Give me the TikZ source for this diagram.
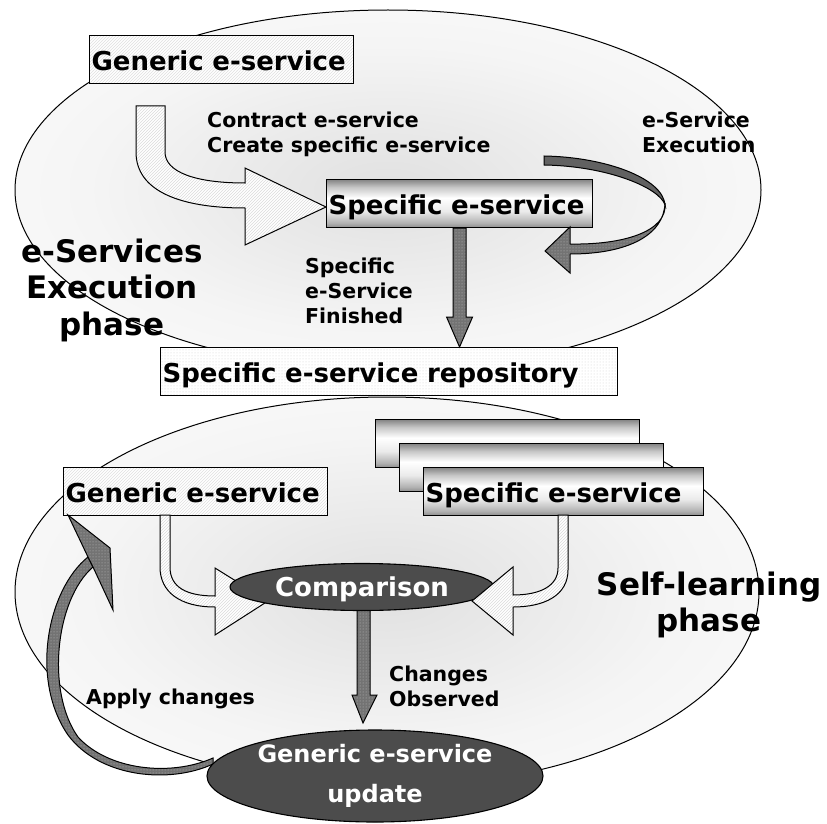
\documentclass[tikz,border=0pt]{standalone}
\usepackage{fontspec}
\setmainfont{DejaVu Sans}
\usetikzlibrary{shapes.geometric,patterns,calc}

% soft grey glow inside the two phase ellipses (path edge at 25bp)
\pgfdeclareradialshading{softglow}{\pgfpoint{0bp}{0bp}}{%
  color(0bp)=(black!12); color(10bp)=(black!8); color(20bp)=(black!4);
  color(25bp)=(black!3); color(50bp)=(black!3)}
% metallic look of the specific e-service boxes (path spans 25bp..75bp)
\pgfdeclareverticalshading{cylbox}{100bp}{%
  color(0bp)=(black!45); color(25bp)=(black!45); color(30bp)=(black!30);
  color(42bp)=(black!8); color(56bp)=(white); color(67bp)=(black!22);
  color(75bp)=(black!48); color(100bp)=(black!48)}

\newcommand\txtlines[2]{\begin{tabular}[t]{@{}#1@{}}#2\end{tabular}}

\begin{document}
\begin{tikzpicture}[x=1pt,y=-1pt,
  phaseshape/.style={draw=black, line width=1pt, shading=softglow},
  box/.style={draw=black, line width=1.1pt, anchor=north west, inner xsep=2pt,
    inner ysep=0pt, text height=35pt, text depth=13pt, align=left,
    font=\bfseries\fontsize{26}{31}\selectfont},
  hatchbox/.style={box, preaction={fill=white}, pattern=north east lines, pattern color=black!12},
  dotbox/.style={box, preaction={fill=white}, pattern=dots, pattern color=black!18},
  metalbox/.style={box, shade, shading=cylbox},
  hatcharrow/.style={draw=black, line width=1pt, preaction={fill=white},
    pattern=north east lines, pattern color=black!14},
  darkarrow/.style={draw=black, line width=1pt, preaction={fill=black!55},
    pattern=dots, pattern color=black!25},
  solidarrow/.style={draw=black, line width=1pt, fill=black!62},
  darkoval/.style={ellipse, draw=black, line width=1.1pt, fill=black!70, text=white,
    inner sep=0pt, font=\bfseries},
  lbl/.style={inner sep=0pt, font=\bfseries\fontsize{20.5}{25}\selectfont},
  biglbl/.style={inner sep=0pt, font=\bfseries\fontsize{31}{36.5}\selectfont}]

\useasboundingbox (0,0) rectangle (827,824);

% the two phases
\shade[phaseshape] (388,190) ellipse [x radius=373pt, y radius=180pt];
\shade[phaseshape] (387,592) ellipse [x radius=372pt, y radius=195pt];

% repository between the phases
\node[dotbox, text width=453pt] (repo) at (160,347) {Specific e-service repository};

% ---- execution phase ----
\node[hatchbox, text width=260pt] (gen1) at (89,35) {Generic e-service};

% contract / create arrow
\draw[hatcharrow] (136,106) -- (165,106) -- (165,152)
  .. controls (165,172) and (195,183) .. (245,183) -- (245,168) -- (326,207)
  -- (245,245) -- (245,208) .. controls (182,208) and (136,192) .. (136,152) -- cycle;

\node[metalbox, text width=262pt] (spec) at (326,179) {Specific e-service};

% execution loop
\draw[solidarrow] (544,156) .. controls (605,157) and (663,178) .. (665,205)
  .. controls (660,188) and (608,166) .. (544,165) -- cycle;
\draw[darkarrow] (665,203) .. controls (668,232) and (622,245) .. (570,244)
  -- (570,227) -- (545,251) -- (570,273) -- (570,254)
  .. controls (628,254) and (664,235) .. (665,203) -- cycle;

% finished -> repository
\coordinate (tipC) at (spec.south |- repo.north);
\draw[darkarrow] ($(spec.south)+(-6.5,0)$) -- ($(spec.south)+(6.5,0)$)
  -- ($(tipC)+(6.5,-30)$) -- ($(tipC)+(13,-30)$) -- (tipC)
  -- ($(tipC)+(-13,-30)$) -- ($(tipC)+(-6.5,-30)$) -- cycle;

% ---- self-learning phase ----
\node[metalbox, minimum width=264pt] (back1) at (375,419) {};
\node[metalbox, minimum width=264pt] (back2) at (399,443) {};
\node[metalbox, text width=276pt] (spec2) at (423,467) {Specific e-service};
\node[hatchbox, text width=260pt] (gen2) at (63,467) {Generic e-service};

% generic -> comparison
\draw[hatcharrow] (160,515) -- (170,515) -- (170,567)
  .. controls (170,587) and (186,596) .. (215,596) -- (215,568) -- (268,601)
  -- (215,635) -- (215,607) .. controls (180,607) and (160,592) .. (160,567) -- cycle;

% comparison -> update
\coordinate (tipF) at (363,723);
\draw[darkarrow] (357,600) -- (370,600) -- ($(tipF)+(7,-28)$) -- ($(tipF)+(14,-28)$)
  -- (tipF) -- ($(tipF)+(-11,-28)$) -- ($(tipF)+(-6,-28)$) -- cycle;

\node[darkoval, minimum width=264pt, minimum height=47pt, text height=19pt, text depth=0pt,
  font=\bfseries\fontsize{26}{31}\selectfont] (cmp) at (362,587) {Comparison};

% specific -> comparison
\draw[hatcharrow] (558,515) -- (568,515) -- (568,570)
  .. controls (568,595) and (545,607) .. (513,607) -- (513,635) -- (472,601)
  -- (513,567) -- (513,595) .. controls (540,595) and (558,586) .. (558,568) -- cycle;

% apply changes loop
\draw[darkarrow] (88,557) .. controls (47,590) and (30,680) .. (68,735)
  .. controls (100,778) and (170,784) .. (213,764) -- (213,758)
  .. controls (170,777) and (108,770) .. (78,737)
  .. controls (46,692) and (55,600) .. (93,567) -- cycle;
\draw[darkarrow] (68,515) -- (110,548) -- (113,610) -- (93,567) -- (88,557) -- cycle;

\node[darkoval, minimum width=336pt, minimum height=92pt, align=center,
  font=\bfseries\fontsize{24}{40}\selectfont] (upd) at (375,776) {Generic e-service\\update};

% ---- labels ----
\node[lbl, anchor=base west] (contract) at (207,128)
  {\txtlines{l}{Contract e-service\\Create specific e-service}};
\node[lbl, anchor=base west] (execlbl) at (642,128) {\txtlines{l}{e-Service\\Execution}};
\node[lbl, anchor=base west] (finished) at (305,273) {\txtlines{l}{Specific\\e-Service\\Finished}};
\node[lbl, anchor=base west] (observed) at (389,681) {\txtlines{l}{Changes\\Observed}};
\node[lbl, anchor=base west] (apply) at (86,704) {Apply changes};
\node[biglbl, anchor=base] (execphase) at (112,262) {\txtlines{c}{e-Services\\Execution\\phase}};
\node[biglbl, anchor=base] (learnphase) at (709,595) {\txtlines{c}{Self-learning\\phase}};

\end{tikzpicture}
\end{document}
